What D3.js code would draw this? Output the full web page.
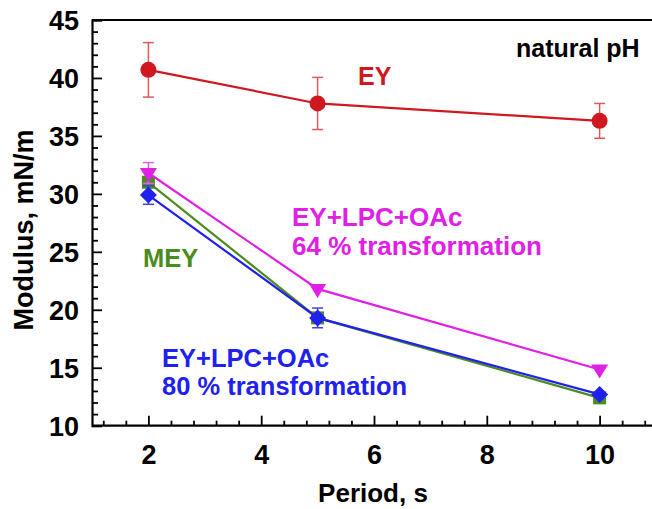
<!DOCTYPE html>
<html><head><meta charset="utf-8">
<script src="https://cdn.jsdelivr.net/npm/d3@7"></script>
<style>body{margin:0;background:#fff}svg{display:block}text{font-family:"Liberation Sans",Arial,sans-serif;font-weight:bold}</style>
</head><body>
<svg id="c" width="652" height="509"></svg>
<script>
const periods = [2, 5, 10];
const eyValues = [40.7, 37.8, 36.3];
const eyErrors = [2.35, 2.25, 1.5];
const lpc64Values = [31.8, 21.8, 14.85];
const lpc64Errors = [0.9, 0, 0];
const meyValues = [31.0, 19.3, 12.4];
const meyErrors = [0, 0, 0];
const lpc80Values = [29.9, 19.3, 12.7];
const lpc80Errors = [0.8, 0.85, 0];
const xMajorTicks = [2, 4, 6, 8, 10];
const yMajorTicks = [10, 15, 20, 25, 30, 35, 40, 45];

const svg = d3.select("#c");
const x = d3.scaleLinear().domain([1, 11]).range([92, 656]);
const y = d3.scaleLinear().domain([10, 45]).range([425.7, 20]);

const xMinor = d3.range(1.2, 10.81, 0.4).map(v => +v.toFixed(1)).filter(v => !xMajorTicks.some(m => Math.abs(m - v) < 1e-6));
const yMinor = d3.range(10, 46, 1).filter(v => v % 5 !== 0);

svg.append("line").attr("x1", x(1)).attr("x2", 652).attr("y1", y(45)).attr("y2", y(45)).attr("stroke", "#000").attr("stroke-width", 2);

const gx = svg.append("g").attr("transform", `translate(0,${y(10)})`);
gx.call(d3.axisBottom(x).tickValues(xMajorTicks).tickSize(-10).tickPadding(19).tickFormat(d3.format("d")));
const gxm = svg.append("g").attr("transform", `translate(0,${y(10)})`);
gxm.call(d3.axisBottom(x).tickValues(xMinor).tickSize(-5).tickFormat(""));
gxm.select(".domain").remove();
gx.select(".domain").attr("d", `M${x(1)},0H652`);

const gy = svg.append("g").attr("transform", `translate(${x(1)},0)`);
gy.call(d3.axisLeft(y).tickValues(yMajorTicks).tickSize(-10).tickPadding(13).tickFormat(d3.format("d")));
const gym = svg.append("g").attr("transform", `translate(${x(1)},0)`);
gym.call(d3.axisLeft(y).tickValues(yMinor).tickSize(-6).tickFormat(""));
gym.select(".domain").remove();

svg.selectAll(".domain").attr("stroke-width", 2.2).attr("stroke", "#000");
svg.selectAll(".tick line").attr("stroke-width", 1.8).attr("stroke", "#000");
svg.selectAll(".tick text").attr("font-size", 27).attr("font-family", "Liberation Sans, Arial, sans-serif").attr("font-weight", "bold").attr("fill", "#000");
gx.selectAll(".tick text").attr("dy", "0.71em");
gy.selectAll(".tick text").attr("dy", "0.36em");

const series = [
  {v: meyValues, e: meyErrors, color: "#4a8c1e", err: "#6a9a55", shape: "square"},
  {v: lpc64Values, e: lpc64Errors, color: "#e020e6", err: "#e060e8", shape: "tri"},
  {v: lpc80Values, e: lpc80Errors, color: "#2020f0", err: "#4040f0", shape: "diamond"},
  {v: eyValues, e: eyErrors, color: "#d01820", err: "#e05a5a", shape: "circle"}
];

const line = d3.line().x((d, i) => x(periods[i])).y(d => y(d));
series.forEach(s => {
  const g = svg.append("g");
  g.append("path").attr("d", line(s.v)).attr("fill", "none").attr("stroke", s.color).attr("stroke-width", 2.2);
  s.v.forEach((v, i) => {
    const e = s.e[i];
    if (e > 0) {
      const cx = x(periods[i]);
      g.append("line").attr("x1", cx).attr("x2", cx).attr("y1", y(v - e)).attr("y2", y(v + e)).attr("stroke", s.err).attr("stroke-width", 1.5);
      [v - e, v + e].forEach(t => g.append("line").attr("x1", cx - 5.5).attr("x2", cx + 5.5).attr("y1", y(t)).attr("y2", y(t)).attr("stroke", s.err).attr("stroke-width", 1.5));
    }
  });
  s.v.forEach((v, i) => {
    const cx = x(periods[i]), cy = y(v);
    if (s.shape === "circle") g.append("circle").attr("cx", cx).attr("cy", cy).attr("r", 8).attr("fill", s.color);
    else if (s.shape === "square") g.append("rect").attr("x", cx - 6.5).attr("y", cy - 6.5).attr("width", 13).attr("height", 13).attr("fill", s.color);
    else if (s.shape === "diamond") g.append("path").attr("d", `M${cx},${cy-8.5}L${cx+8.5},${cy}L${cx},${cy+8.5}L${cx-8.5},${cy}Z`).attr("fill", s.color);
    else g.append("path").attr("d", `M${cx-8.5},${cy-5}L${cx+8.5},${cy-5}L${cx},${cy+9}Z`).attr("fill", s.color);
  });
});

function label(t, lx, ly, color, size) {
  svg.append("text").attr("x", lx).attr("y", ly).attr("fill", color).attr("font-size", size).text(t);
}
label("natural pH", 516, 57, "#000", 25);
label("EY", 358, 85, "#d01820", 25);
label("MEY", 143, 267, "#4a8c1e", 25.5);
label("EY+LPC+OAc", 292, 226, "#e020e6", 26);
label("64 % transformation", 292, 255, "#e020e6", 26);
label("EY+LPC+OAc", 162, 367, "#2020f0", 25.5);
label("80 % transformation", 162, 395, "#2020f0", 25.5);

svg.append("text").attr("x", 373).attr("y", 502).attr("text-anchor", "middle").attr("font-size", 26).attr("fill", "#000").text("Period, s");
svg.append("text").attr("transform", `translate(33,230) rotate(-90)`).attr("text-anchor", "middle").attr("font-size", 27).attr("fill", "#000").text("Modulus, mN/m");
</script>
</body></html>
